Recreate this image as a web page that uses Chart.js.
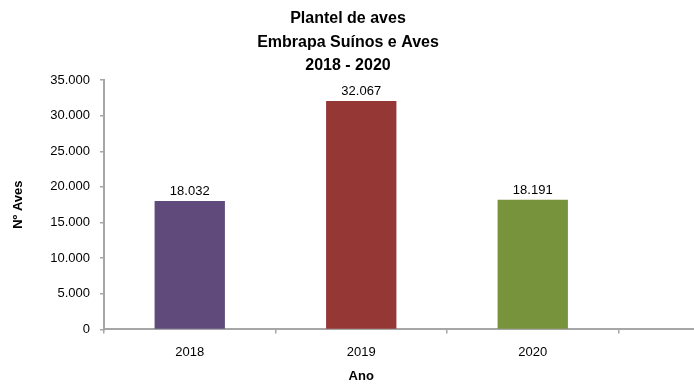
<!DOCTYPE html>
<html>
<head>
<meta charset="utf-8">
<script src="https://cdn.jsdelivr.net/npm/chart.js@4/dist/chart.umd.min.js"></script>
<style>
  html, body { margin: 0; padding: 0; background: #fff; }
  #wrap { width: 694px; height: 385px; overflow: hidden; position: relative; }
  #box { width: 800px; height: 385px; }
</style>
</head>
<body>
<div id="wrap"><div id="box"><canvas id="c"></canvas></div></div>
<script>
// Plantel de aves por ano (a última categoria fica vazia e prolonga o eixo)
const anos = ['2018', '2019', '2020', ''];
const aves = [18032, 32067, 18191, null];
const coresBarras = ['#604A7B', '#953735', '#77933C', '#FFFFFF'];
const tituloLinhas = ['Plantel de aves', 'Embrapa Suínos e Aves', '2018 - 2020'];
const tituloEixoX = 'Ano';
const ticksY = [0, 5000, 10000, 15000, 20000, 25000, 30000, 35000];

const fmt = v => String(v).replace(/\B(?=(\d{3})+(?!\d))/g, '.');
const FONTE = "'Liberation Sans', Arial, sans-serif";

// Título em três linhas e título do eixo X, centrados nas três categorias com dados
const titulos = {
  id: 'titulosCentrados',
  afterDraw(chart) {
    const ctx = chart.ctx;
    const x = chart.scales.x;
    const centroX = (x.getPixelForValue(0) + x.getPixelForValue(2)) / 2;
    ctx.save();
    ctx.fillStyle = '#000';
    ctx.textAlign = 'center';
    ctx.textBaseline = 'middle';
    ctx.font = 'bold 16px ' + FONTE;
    const ys = [19, 43, 66];
    tituloLinhas.forEach((t, i) => ctx.fillText(t, 348, ys[i]));
    ctx.font = 'bold 13px ' + FONTE;
    ctx.fillText(tituloEixoX, centroX, 376);
    ctx.restore();
  }
};

// Rótulos de valor acima de cada barra
const rotulos = {
  id: 'rotulos',
  afterDatasetsDraw(chart) {
    const ctx = chart.ctx;
    const meta = chart.getDatasetMeta(0);
    ctx.save();
    ctx.font = '13px ' + FONTE;
    ctx.fillStyle = '#000';
    ctx.textAlign = 'center';
    ctx.textBaseline = 'bottom';
    meta.data.forEach((bar, i) => {
      const v = chart.data.datasets[0].data[i];
      if (v == null) return;
      ctx.fillText(fmt(v), bar.x, bar.y - 3);
    });
    ctx.restore();
  }
};

new Chart(document.getElementById('c'), {
  type: 'bar',
  data: {
    labels: anos,
    datasets: [{
      data: aves,
      backgroundColor: coresBarras,
      borderWidth: 0,
      categoryPercentage: 1,
      barPercentage: 0.41
    }]
  },
  options: {
    responsive: true,
    maintainAspectRatio: false,
    animation: false,
    devicePixelRatio: 1,
    layout: { padding: { left: 11, right: 10, top: 80, bottom: 14 } },
    plugins: {
      legend: { display: false },
      tooltip: { enabled: false },
      title: { display: false }
    },
    scales: {
      x: {
        offset: true,
        grid: { display: true, drawOnChartArea: false, drawTicks: true, tickLength: 4, offset: true, color: '#A6A6A6', lineWidth: 1.5 },
        border: { display: true, color: '#A6A6A6', width: 2 },
        ticks: { color: '#000', font: { family: FONTE, size: 13 }, padding: 11, maxRotation: 0 },
        title: { display: false }
      },
      y: {
        min: 0,
        max: 35000,
        afterFit(scale) { scale.width = 93; },
        afterBuildTicks(scale) { scale.ticks = ticksY.map(v => ({ value: v })); },
        grid: { display: true, drawOnChartArea: false, drawTicks: true, tickLength: 4, color: '#A6A6A6', lineWidth: 1.5 },
        border: { display: true, color: '#A6A6A6', width: 2 },
        ticks: { color: '#000', font: { family: FONTE, size: 13 }, padding: 10, callback: v => fmt(v) },
        title: { display: true, text: 'Nº Aves', color: '#000', font: { family: FONTE, size: 13, weight: 'bold' }, padding: 0 }
      }
    }
  },
  plugins: [rotulos, titulos]
});
</script>
</body>
</html>
